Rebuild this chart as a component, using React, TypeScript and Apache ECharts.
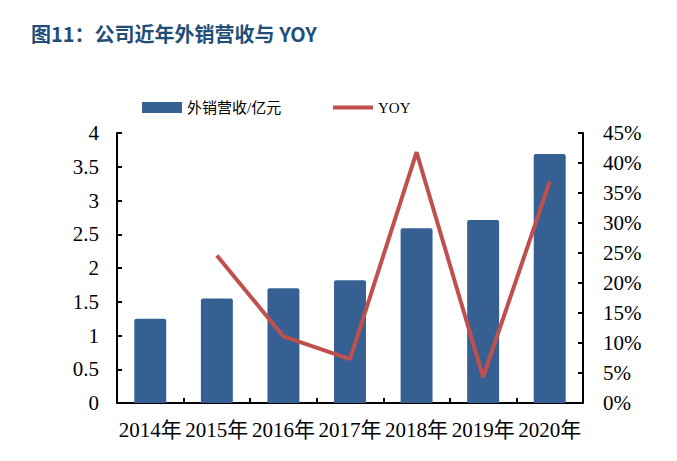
import * as echarts from 'echarts';
import React, { useEffect, useRef } from 'react';

// 연도 (x축)
const years = ['2014年', '2015年', '2016年', '2017年', '2018年', '2019年', '2020年'];
// 外销营收 (亿元)
const revenue = [1.25, 1.55, 1.7, 1.82, 2.59, 2.71, 3.69];
// YOY (%), 2014 has no value
const yoy = [null, 24.6, 11.1, 7.3, 41.8, 4.3, 36.9];

const serif = '"Liberation Serif", "Times New Roman", "Noto Sans CJK SC", serif';

const App = () => {
  const chartRef = useRef<HTMLDivElement>(null);

  useEffect(() => {
    if (!chartRef.current) return;
    const chart = echarts.init(chartRef.current, undefined, { renderer: 'svg' });

    const axisLine = { show: true, lineStyle: { color: '#000', width: 2 } };
    const axisTick = { show: true, inside: true, length: 5, lineStyle: { color: '#000', width: 2 } };
    const legendText = { fontSize: 15, color: '#000', fontFamily: serif };

    chart.setOption({
      animation: false,
      backgroundColor: '#fff',
      title: {
        text: '图11：公司近年外销营收与 YOY',
        left: 26,
        top: 18,
        textStyle: {
          color: '#1F4E79',
          fontSize: 20,
          fontWeight: 'bold',
          fontFamily: '"Noto Sans CJK SC", "Liberation Sans", sans-serif',
        },
      },
      // 막대와 선 범례의 아이콘 높이가 달라서 두 개로 나눔
      legend: [
        {
          left: 137,
          top: 95,
          itemWidth: 40,
          itemHeight: 11,
          itemGap: 5,
          textStyle: legendText,
          data: [{ name: '外销营收/亿元', icon: 'rect' }],
        },
        {
          left: 328,
          top: 95,
          itemWidth: 40,
          itemHeight: 4,
          itemGap: 5,
          textStyle: legendText,
          data: [{ name: 'YOY', icon: 'rect' }],
        },
      ],
      grid: { left: 117, right: 94, top: 133, bottom: 58, containLabel: false },
      xAxis: {
        type: 'category',
        data: years,
        axisLine,
        axisTick,
        axisLabel: { color: '#000', fontSize: 21, fontFamily: serif, margin: 16, interval: 0 },
      },
      yAxis: [
        {
          type: 'value',
          min: 0,
          max: 4,
          interval: 0.5,
          axisLine,
          axisTick,
          splitLine: { show: false },
          axisLabel: { color: '#000', fontSize: 21, fontFamily: serif, margin: 18 },
        },
        {
          type: 'value',
          min: 0,
          max: 45,
          interval: 5,
          position: 'right',
          axisLine,
          axisTick,
          splitLine: { show: false },
          axisLabel: { color: '#000', fontSize: 21, fontFamily: serif, margin: 20, formatter: '{value}%' },
        },
      ],
      series: [
        {
          name: '外销营收/亿元',
          type: 'bar',
          data: revenue,
          barWidth: '48%',
          itemStyle: { color: '#376092', borderRadius: [2, 2, 0, 0] },
        },
        {
          name: 'YOY',
          type: 'line',
          yAxisIndex: 1,
          data: yoy,
          symbol: 'none',
          lineStyle: { color: '#C0504D', width: 4 },
          itemStyle: { color: '#C0504D' },
        },
      ],
    });

    return () => chart.dispose();
  }, []);

  return (
    <div
      ref={chartRef}
      style={{ position: 'fixed', left: 0, top: 0, width: '677px', height: '461px' }}
    />
  );
};

export default App;
